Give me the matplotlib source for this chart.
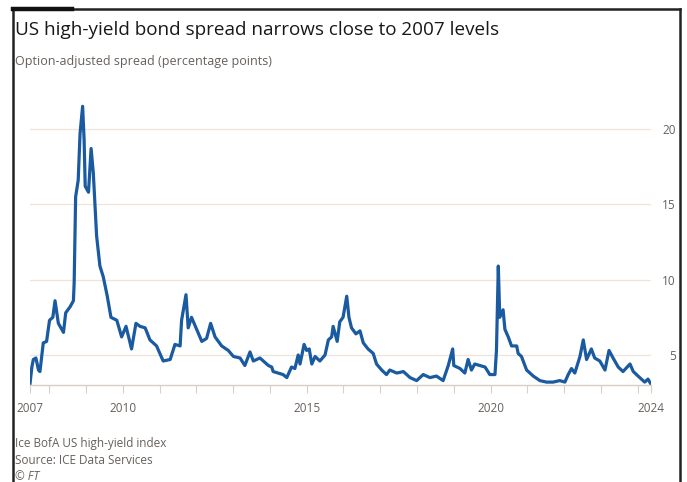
#imports
import numpy as np
import matplotlib.pyplot as plt
from matplotlib.lines import Line2D

#-----------------------------------------------------------------------------
#ICE BofA US high-yield option-adjusted spread.
#dates are decimal years, spread in percentage points
#-----------------------------------------------------------------------------
dates = [2007.48, 2007.53, 2007.57, 2007.64, 2007.71, 2007.75, 2007.84, 2007.93,
         2008.01, 2008.10, 2008.16, 2008.25, 2008.39, 2008.45, 2008.57, 2008.66,
         2008.68, 2008.72, 2008.79, 2008.84, 2008.91, 2008.95, 2008.98, 2009.07,
         2009.14, 2009.20, 2009.29, 2009.38, 2009.47, 2009.58, 2009.68, 2009.84,
         2009.97, 2010.09, 2010.24, 2010.36, 2010.47, 2010.61, 2010.74, 2010.92,
         2011.10, 2011.29, 2011.42, 2011.56, 2011.60, 2011.72, 2011.78, 2011.87,
         2012.01, 2012.15, 2012.28, 2012.39, 2012.51, 2012.69, 2012.87, 2013.01,
         2013.19, 2013.32, 2013.46, 2013.55, 2013.73, 2013.96, 2014.05, 2014.09,
         2014.23, 2014.36, 2014.46, 2014.59, 2014.68, 2014.77, 2014.82, 2014.93,
         2015.00, 2015.07, 2015.14, 2015.23, 2015.36, 2015.50, 2015.59, 2015.68,
         2015.72, 2015.83, 2015.90, 2015.99, 2016.09, 2016.15, 2016.22, 2016.34,
         2016.45, 2016.54, 2016.67, 2016.81, 2016.90, 2017.04, 2017.17, 2017.26,
         2017.45, 2017.63, 2017.81, 2017.99, 2018.17, 2018.35, 2018.53, 2018.71,
         2018.85, 2018.97, 2019.00, 2019.17, 2019.30, 2019.39, 2019.48, 2019.57,
         2019.71, 2019.85, 2019.98, 2020.12, 2020.16, 2020.21, 2020.25, 2020.34,
         2020.39, 2020.48, 2020.57, 2020.71, 2020.75, 2020.84, 2020.98, 2021.16,
         2021.34, 2021.52, 2021.70, 2021.88, 2022.02, 2022.11, 2022.20, 2022.29,
         2022.43, 2022.52, 2022.61, 2022.74, 2022.83, 2022.97, 2023.11, 2023.22,
         2023.33, 2023.47, 2023.60, 2023.79, 2023.88, 2024.01, 2024.19, 2024.28,
         2024.35]
spread = [3.1, 4.2, 4.7, 4.8, 4.0, 3.9, 5.8, 5.9,
          7.3, 7.5, 8.6, 7.1, 6.5, 7.8, 8.2, 8.6,
          9.8, 15.5, 16.6, 19.7, 21.5, 19.3, 16.2, 15.8,
          18.7, 17.1, 12.9, 10.9, 10.2, 8.9, 7.5, 7.3,
          6.2, 6.9, 5.4, 7.1, 6.9, 6.8, 6.0, 5.6,
          4.6, 4.7, 5.7, 5.6, 7.3, 9.0, 6.8, 7.5,
          6.7, 5.9, 6.1, 7.1, 6.2, 5.6, 5.3, 4.9,
          4.8, 4.3, 5.2, 4.6, 4.8, 4.3, 4.2, 3.9,
          3.8, 3.7, 3.5, 4.2, 4.1, 5.0, 4.4, 5.7,
          5.3, 5.4, 4.4, 4.9, 4.6, 5.0, 6.0, 6.2,
          6.9, 5.9, 7.2, 7.5, 8.9, 7.5, 6.8, 6.4,
          6.6, 5.8, 5.4, 5.1, 4.4, 4.0, 3.7, 4.0,
          3.8, 3.9, 3.5, 3.3, 3.7, 3.5, 3.6, 3.3,
          4.3, 5.4, 4.3, 4.1, 3.8, 4.7, 4.0, 4.4,
          4.3, 4.2, 3.7, 3.7, 5.3, 10.9, 7.5, 8.0,
          6.7, 6.2, 5.6, 5.6, 5.1, 4.9, 4.0, 3.6,
          3.3, 3.2, 3.2, 3.3, 3.2, 3.7, 4.1, 3.8,
          4.9, 6.0, 4.7, 5.4, 4.8, 4.6, 4.0, 5.3,
          4.8, 4.2, 3.9, 4.4, 3.9, 3.6, 3.2, 3.4,
          3.1]

year_ticks = list(range(2008, 2025))
y_ticks = [5, 10, 15, 20]

blue = "#1a5aa0"
grey = "#66605c"
grid = "#f0e4da"

plt.rcParams['font.family'] = ['Open Sans', 'DejaVu Sans']

fig = plt.figure(figsize=(6.87, 4.82), dpi=100)
ax = fig.add_axes([0.0437, 0.201, 0.9033, 0.6253])

ax.plot(dates, spread, color=blue, linewidth=2.3, solid_joinstyle="round")

ax.set_xlim(dates[0], dates[-1])
ax.set_ylim(3.0, 23)

#x ticks: one per year plus both ends, labels only on a few
xt = [dates[0]] + year_ticks + [dates[-1]]
ax.set_xticks(xt)
lab = []
for t in xt:
    if t == dates[0]:
        lab.append("2007")
    elif t == dates[-1]:
        lab.append("2024")
    elif t in (2010, 2015, 2020):
        lab.append(str(t))
    else:
        lab.append("")
ax.set_xticklabels(lab)
ax.tick_params(axis="x", length=6, width=0.8, color="#d9cfc6", colors=grey,
               labelsize=8.5, pad=6)
for t in ax.xaxis.get_major_ticks():
    t.tick1line.set_color("#d9cfc6")

ax.yaxis.tick_right()
ax.set_yticks(y_ticks)
ax.tick_params(axis="y", length=0, labelsize=8.5, colors=grey, pad=18)
for l in ax.get_yticklabels():
    l.set_horizontalalignment("right")
ax.grid(axis="y", color=grid, linewidth=0.9)
ax.set_axisbelow(True)

for s in ["top", "right", "left"]:
    ax.spines[s].set_visible(False)
ax.spines["bottom"].set_color("#d9cfc6")
ax.spines["bottom"].set_linewidth(1.0)

#titles and footer
fig.text(0.022, 1 - 21/482, "US high-yield bond spread narrows close to 2007 levels",
         fontsize=13.6, color="#1a1817", va="top", ha="left")
fig.text(0.022, 1 - 62/482, "Option-adjusted spread (percentage points)",
         fontsize=9, color=grey, va="center", ha="left")
fig.text(0.022, 1 - 443/482, "Ice BofA US high-yield index",
         fontsize=8.5, color=grey, va="center", ha="left")
fig.text(0.022, 1 - 460/482, "Source: ICE Data Services",
         fontsize=8.5, color=grey, va="center", ha="left")
fig.text(0.022, 1 - 476/482, "© FT", fontsize=8.5, color=grey, va="center",
         ha="left", style="italic")

#frame around the graphic
top = 1 - 8.5/482
fig.add_artist(Line2D([13/687, 13/687], [0, top], color="#222222", linewidth=1.8))
fig.add_artist(Line2D([680/687, 680/687], [0, top], color="#222222", linewidth=1.8))
fig.add_artist(Line2D([13/687, 680/687], [top, top], color="#222222", linewidth=1.8))
fig.add_artist(Line2D([13/687, 72/687], [top - 0.002, top - 0.002], color="#111111",
                      linewidth=3.2))

fig.savefig("out.png", dpi=100)
